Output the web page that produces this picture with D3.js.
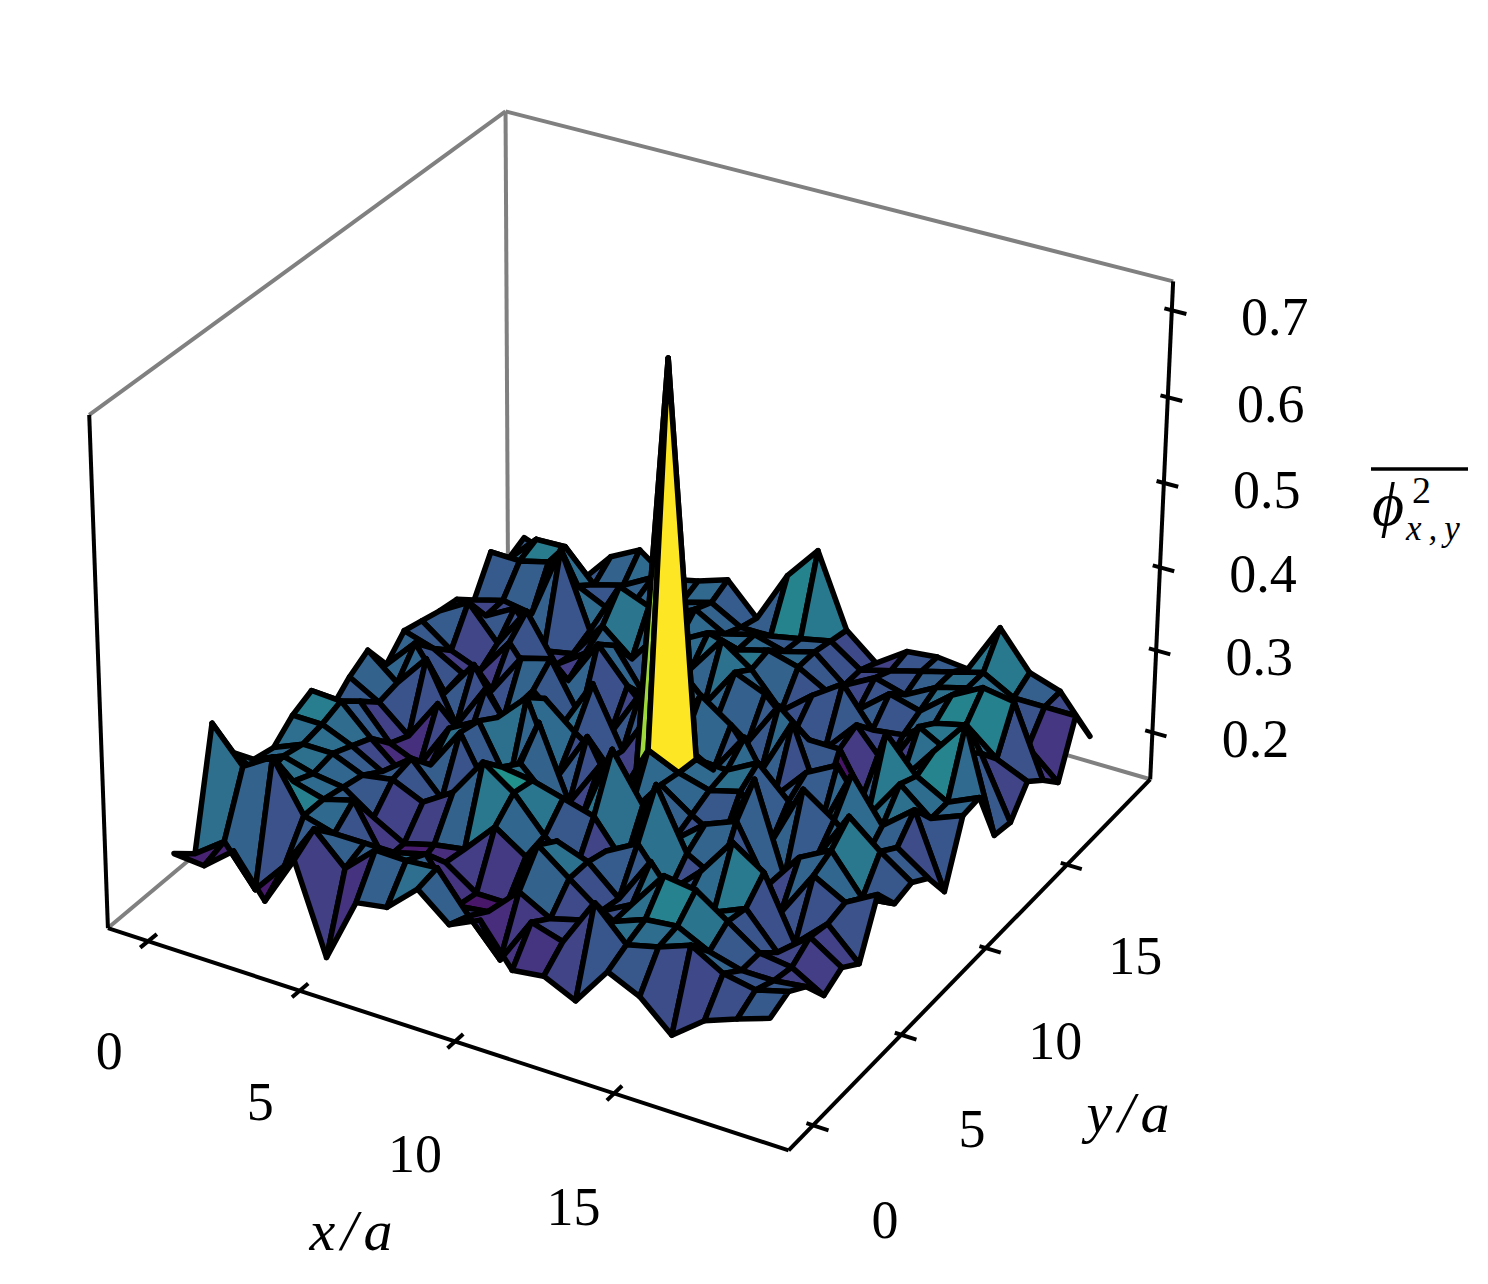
<!DOCTYPE html>
<html><head><meta charset="utf-8"><style>html,body{margin:0;background:#fff}text{font-family:"Liberation Serif",serif;fill:#000}</style>
<script src="https://d3js.org/d3.v7.min.js"></script></head><body><svg id="c" width="1488" height="1284"></svg>
<script>
const sites = d3.range(20);
const xTicks = [0, 5, 10, 15];
const yTicks = [0, 5, 10, 15];
const zTicks = [0.2, 0.3, 0.4, 0.5, 0.6, 0.7];
// one row per y site, x site 0..19 left to right
const phi2 = [
  [.22,.217,.246,.198,.258,.154,.231,.237,.27,.24,.257,.21,.215,.198,.244,.227,.194,.223,.237,.25],
  [.2,.226,.18,.22,.275,.24,.273,.272,.275,.23,.19,.246,.235,.292,.255,.264,.278,.257,.25,.26],
  [.336,.296,.318,.26,.25,.25,.25,.26,.21,.215,.25,.23,.24,.25,.264,.268,.25,.24,.24,.245],
  [.282,.262,.27,.26,.27,.21,.21,.23,.205,.205,.285,.257,.23,.25,.295,.29,.265,.24,.235,.214],
  [.255,.27,.26,.255,.23,.21,.22,.226,.264,.24,.27,.257,.225,.28,.235,.244,.26,.22,.25,.226],
  [.25,.265,.265,.25,.256,.24,.263,.31,.285,.245,.215,.25,.27,.225,.26,.306,.282,.21,.245,.21],
  [.27,.27,.255,.235,.262,.225,.25,.285,.28,.27,.26,.215,.32,.25,.23,.26,.215,.27,.25,.271],
  [.281,.279,.245,.215,.235,.285,.22,.27,.235,.226,.32,.265,.235,.265,.28,.215,.26,.28,.235,.24],
  [.24,.26,.22,.205,.26,.28,.215,.30,.215,.27,.225,.27,.245,.225,.31,.205,.24,.30,.27,.245],
  [.26,.24,.21,.26,.225,.265,.30,.215,.275,.21,.281,.265,.255,.265,.215,.29,.265,.23,.255,.23],
  [.274,.245,.285,.215,.27,.22,.28,.25,.225,.21,.717,.262,.26,.28,.245,.22,.30,.25,.28,.194],
  [.238,.275,.225,.27,.215,.26,.23,.29,.22,.28,.25,.23,.28,.22,.26,.28,.23,.28,.25,.265],
  [.261,.25,.23,.22,.27,.28,.22,.21,.27,.225,.29,.265,.22,.29,.2,.19,.31,.27,.25,.267],
  [.255,.229,.215,.26,.215,.235,.29,.25,.215,.28,.245,.225,.28,.25,.25,.19,.235,.28,.324,.202],
  [.249,.27,.23,.28,.225,.25,.27,.22,.26,.23,.28,.265,.23,.22,.26,.22,.28,.26,.27,.198],
  [.245,.235,.255,.213,.22,.265,.235,.28,.245,.29,.265,.225,.255,.28,.235,.24,.265,.274,.244,.228],
  [.226,.236,.23,.32,.23,.295,.281,.25,.27,.26,.27,.26,.24,.23,.26,.25,.28,.30,.294,.21],
  [.268,.267,.276,.257,.24,.26,.25,.27,.25,.26,.25,.26,.23,.25,.24,.26,.27,.26,.22,.188],
  [.24,.276,.277,.24,.25,.27,.25,.26,.24,.24,.247,.255,.23,.24,.25,.26,.27,.25,.25,.25],
  [.25,.237,.217,.257,.276,.25,.258,.27,.233,.296,.337,.25,.22,.245,.249,.245,.306,.262,.25,.206],
];

const lim = [-1.346, 20.346], zLim = [0.1421, 0.7329];
const box = 1.1905;
const u = d3.scaleLinear(lim, [0, 1]);
const v = d3.scaleLinear(lim, [0, 1]);
const w = d3.scaleLinear(zLim, [0, 1]);

// default mplot3d camera (elev 30, azim -60, dist 10), box 4:4:3
function proj(x, y, z) {
  const a = u(x), b = v(y), c = w(z);
  const dx = (a - 0.5) * box, dy = (b - 0.5) * box, dz = (c - 0.5) * box * 0.75;
  const sx = dx * 0.8660254 + dy * 0.5;
  const sy = -0.25 * dx + 0.4330127 * dy + 0.8660254 * dz;
  const d = 10 - (0.4330127 * dx - 0.75 * dy + 0.5 * dz);
  // small correction so the box corners land where they do in the figure
  const nudge = 6 * (1 - a) * (1 - b) * c + 3 * (1 - a) * b * c + 20 * (1 - a) * b * (1 - b);
  return [638.7 + 6550 * sx / d + nudge, 604.6 - 6550 * sy / d + 2.5 * b * c];
}
function depth(x, y, z) {
  const dx = (u(x) - 0.5) * box, dy = (v(y) - 0.5) * box, dz = (w(z) - 0.5) * box * 0.75;
  return 10 - (0.4330127 * dx - 0.75 * dy + 0.5 * dz);
}

const svg = d3.select('#c');
const line = d3.line();
const [lo, hi] = lim, [zlo, zhi] = zLim;

function seg(g, p, q, color, width) {
  g.append('path').attr('d', line([proj(...p), proj(...q)]))
    .attr('fill', 'none').attr('stroke', color).attr('stroke-width', width);
}

// back panes
const back = svg.append('g');
[[[lo, lo, zlo], [lo, hi, zlo]], [[lo, hi, zlo], [hi, hi, zlo]], [[lo, hi, zlo], [lo, hi, zhi]],
 [[lo, hi, zhi], [hi, hi, zhi]], [[lo, hi, zhi], [lo, lo, zhi]]]
  .forEach(([p, q]) => seg(back, p, q, '#808080', 4));

// surface faces, far ones first
const faces = [];
sites.slice(0, 19).forEach((j) => sites.slice(0, 19).forEach((i) => {
  const pts = [[i, j], [i + 1, j], [i + 1, j + 1], [i, j + 1]].map(([a, b]) => [a, b, phi2[b][a]]);
  faces.push({
    pts,
    mean: d3.mean(pts, (p) => p[2]),
    far: d3.mean(pts, (p) => depth(...p)),
  });
}));
faces.sort((a, b) => b.far - a.far);
const color = d3.scaleSequential([0.198, d3.max(faces, (f) => f.mean)], d3.interpolateViridis).clamp(true);
svg.append('g').selectAll('path').data(faces).join('path')
  .attr('d', (f) => line(f.pts.map((p) => proj(...p))) + 'Z')
  .attr('fill', (f) => color(f.mean))
  .attr('stroke', '#000').attr('stroke-width', 5.5).attr('stroke-linejoin', 'round');

// axis lines and ticks
const ax = svg.append('g');
seg(ax, [lo, lo, zlo], [lo, lo, zhi], '#000', 4);
seg(ax, [lo, lo, zlo], [hi, lo, zlo], '#000', 4);
seg(ax, [hi, lo, zlo], [hi, hi, zlo], '#000', 4);
seg(ax, [hi, hi, zlo], [hi, hi, zhi], '#000', 4);

function label(pos, txt, size = 54) {
  svg.append('text').attr('x', pos[0]).attr('y', pos[1]).attr('text-anchor', 'middle')
    .attr('font-size', size).text(txt);
}
xTicks.forEach((t) => {
  seg(ax, [t, lo - 0.38, zlo], [t, lo + 0.42, zlo], '#000', 4);
  const p = proj(t, lo, zlo);
  label([p[0] - 39 - t * 0.1, p[1] + 128 + t * 0.25], t);
});
yTicks.forEach((t) => {
  seg(ax, [hi - 0.2, t, zlo], [hi + 0.47, t, zlo], '#000', 4);
  const p = proj(hi, t, zlo);
  label([p[0] + 72 - t * 0.25, p[1] + 113 - t * 0.25], t);
});
zTicks.forEach((t) => {
  seg(ax, [hi - 0.23, hi, t], [hi + 0.45, hi, t], '#000', 4);
  const p = proj(hi, hi, t);
  label([p[0] + 103, p[1] + 25], t.toFixed(1));
});

function mathLabel(xc, yb, s) {
  svg.append('text').attr('x', xc).attr('y', yb).attr('text-anchor', 'middle')
    .attr('font-size', 58).attr('font-style', 'italic').attr('letter-spacing', 6).text(s);
}
mathLabel(354, 1250, 'x/a');
mathLabel(1131, 1132, 'y/a');

// overlined phi label
const phiG = svg.append('g');
phiG.append('line').attr('x1', 1371).attr('x2', 1468).attr('y1', 469).attr('y2', 469)
  .attr('stroke', '#000').attr('stroke-width', 3.5);
phiG.append('text').attr('x', 1372).attr('y', 525).attr('font-size', 62).attr('font-style', 'italic').text('ϕ');
phiG.append('text').attr('x', 1412).attr('y', 503).attr('font-size', 38).text('2');
phiG.append('text').attr('x', 1406).attr('y', 540).attr('font-size', 35).attr('font-style', 'italic').attr('letter-spacing', 7).text('x,y');
</script></body></html>
